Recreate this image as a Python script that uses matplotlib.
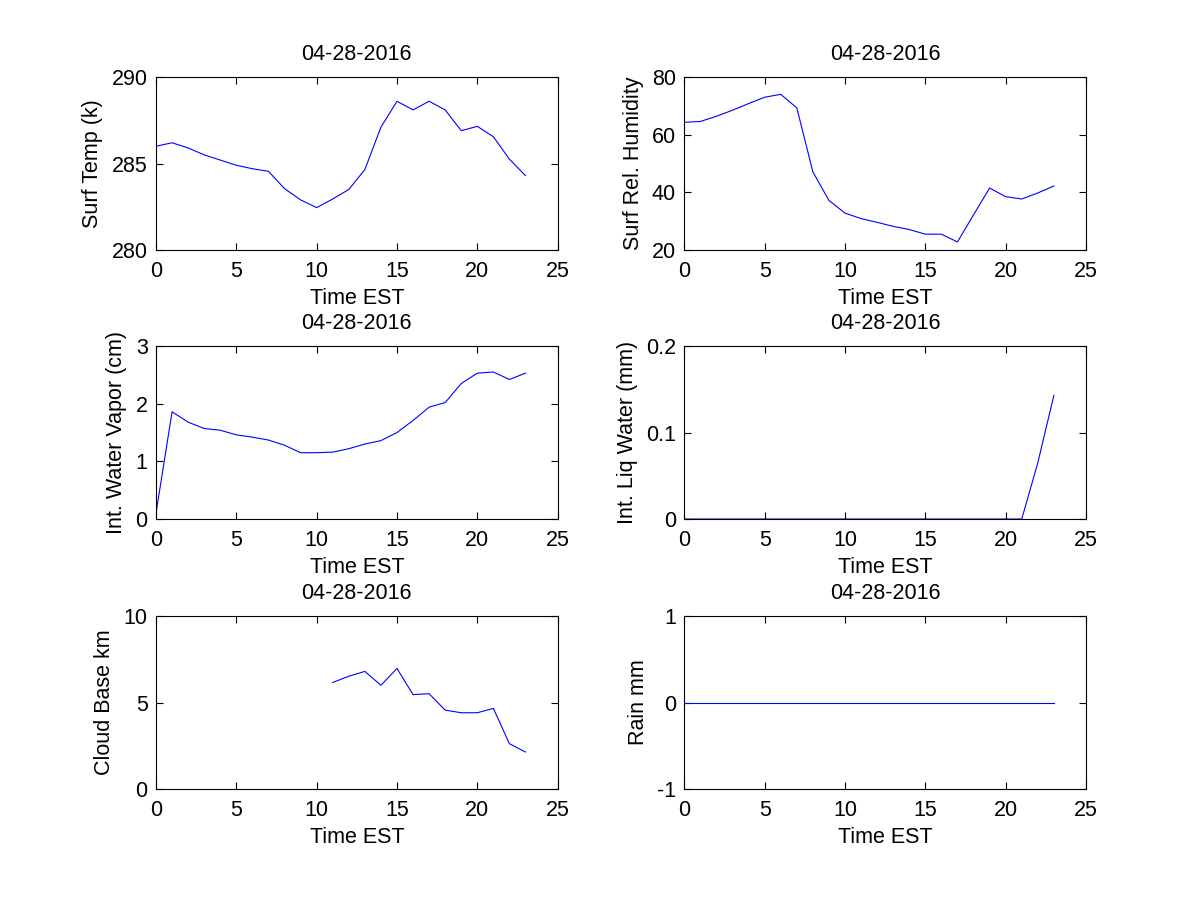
import numpy as np
import matplotlib
matplotlib.use('Agg')
import matplotlib.pyplot as plt

plt.rcParams['font.family'] = ['Liberation Sans', 'DejaVu Sans']
plt.rcParams['font.size'] = 15.5

# Data (hourly, EST)
hours = list(range(24))
date_label = '04-28-2016'

surf_temp = [286.0, 286.2, 285.9, 285.5, 285.2, 284.9, 284.7, 284.55, 283.55, 282.9,
             282.45, 282.95, 283.5, 284.65, 287.1, 288.6, 288.1, 288.6, 288.1, 286.9,
             287.15, 286.55, 285.25, 284.3]
surf_rh = [64.3, 64.6, 66.4, 68.5, 70.8, 73.0, 74.0, 69.3, 47.1, 37.2,
           32.8, 30.9, 29.6, 28.2, 27.1, 25.5, 25.5, 22.8, 32.2, 41.5,
           38.5, 37.7, 39.8, 42.2]
water_vapor = [0.1, 1.86, 1.68, 1.57, 1.54, 1.46, 1.42, 1.37, 1.28, 1.15,
               1.15, 1.16, 1.22, 1.30, 1.36, 1.50, 1.71, 1.94, 2.02, 2.35,
               2.53, 2.55, 2.42, 2.53]
liq_water = [0.0] * 21 + [0.0, 0.065, 0.143]
cloud_base = [np.nan] * 11 + [6.16, 6.52, 6.80, 6.0, 6.97, 5.46, 5.51, 4.56, 4.41,
                              4.41, 4.66, 2.62, 2.14]
rain = [0.0] * 24

panels = [
    (surf_temp, 'Surf Temp (k)', (280, 290), [280, 285, 290], ['280', '285', '290']),
    (surf_rh, 'Surf Rel. Humidity', (20, 80), [20, 40, 60, 80], ['20', '40', '60', '80']),
    (water_vapor, 'Int. Water Vapor (cm)', (0, 3), [0, 1, 2, 3], ['0', '1', '2', '3']),
    (liq_water, 'Int. Liq Water (mm)', (0, 0.2), [0, 0.1, 0.2], ['0', '0.1', '0.2']),
    (cloud_base, 'Cloud Base km', (0, 10), [0, 5, 10], ['0', '5', '10']),
    (rain, 'Rain mm', (-1, 1), [-1, 0, 1], ['-1', '0', '1']),
]

fig = plt.figure(figsize=(12, 9), dpi=100)
lefts = [0.13, 0.5703]
bottoms = [0.7222, 0.4233, 0.1233]

for i, (vals, ylab, ylim, yticks, yticklabels) in enumerate(panels):
    row, col = divmod(i, 2)
    ax = fig.add_axes([lefts[col], bottoms[row], 0.3347, 0.1922])
    ax.plot(hours, vals, color='blue', linewidth=0.8)
    ax.set_xlim(0, 25)
    ax.set_ylim(*ylim)
    ax.set_xticks([0, 5, 10, 15, 20, 25])
    ax.set_yticks(yticks)
    ax.set_yticklabels(yticklabels)
    ax.tick_params(direction='in', top=True, right=True, length=5, width=0.8)
    ax.tick_params(axis='x', pad=8)
    ax.tick_params(axis='y', pad=6)
    for s in ax.spines.values():
        s.set_linewidth(0.8)
    ax.set_title(date_label, fontsize=15.5, pad=12)
    ax.set_xlabel('Time EST', labelpad=4)
    ax.set_ylabel(ylab, labelpad=6)

fig.savefig('out.png', dpi=100)
